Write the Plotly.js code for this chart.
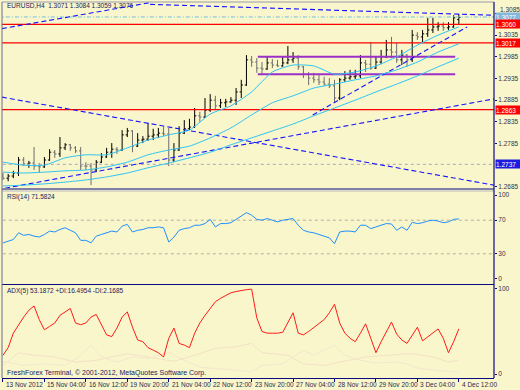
<!DOCTYPE html>
<html><head><meta charset="utf-8">
<script src="https://cdn.plot.ly/plotly-3.0.1.min.js"></script>
<style>html,body{margin:0;padding:0;background:#f9f6cb;}#chart{width:520px;height:390px;}</style>
</head><body><div id="chart"></div>
<script>
// ---- data (bar index 0 = 13 Nov 2012 20:00, H4 bars) ----
const barOpen = [1.2710,1.2705,1.2710,1.2717,1.2747,1.2738,1.2740,1.2733,1.2731,1.2747,
1.2765,1.2761,1.2775,1.2782,1.2775,1.2768,1.2733,1.2733,1.2724,1.2742,
1.2754,1.2765,1.2772,1.2770,1.2805,1.2814,1.2779,1.2793,1.2795,1.2802,
1.2805,1.2809,1.2807,1.2747,1.2770,1.2809,1.2819,1.2823,1.2849,1.2846,
1.2862,1.2885,1.2872,1.2879,1.2881,1.2885,1.2904,1.2920,1.2978,1.2973,
1.2959,1.2957,1.2971,1.2966,1.2964,1.2971,1.2978,1.2982,1.2962,1.2945,
1.2936,1.2932,1.2927,1.2922,1.2918,1.2890,1.2932,1.2936,1.2939,1.2941,
1.2971,1.2968,1.2959,1.2973,1.2985,1.3001,1.2996,1.2978,1.2989,1.2978,
1.3035,1.3031,1.3038,1.3047,1.3054,1.3056,1.3052,1.3054,1.3071];
const barHigh = [1.2717,1.2715,1.2722,1.2754,1.2754,1.2745,1.2777,1.2740,1.2754,1.2772,
1.2770,1.2800,1.2786,1.2784,1.2779,1.2777,1.2742,1.2740,1.2747,1.2763,
1.2775,1.2786,1.2777,1.2816,1.2821,1.2816,1.2809,1.2802,1.2832,1.2819,
1.2821,1.2823,1.2821,1.2786,1.2825,1.2839,1.2842,1.2867,1.2858,1.2890,
1.2899,1.2895,1.2888,1.2888,1.2892,1.2913,1.2932,1.2989,1.2987,1.2982,
1.2973,1.2985,1.2980,1.2978,1.2985,1.3010,1.2996,1.2989,1.2964,1.2950,
1.2948,1.2943,1.2939,1.2936,1.2932,1.2936,1.2952,1.2955,1.2955,1.2989,
1.2978,1.3019,1.2985,1.3001,1.3024,1.3031,1.3017,1.3001,1.2992,1.3047,
1.3042,1.3047,1.3075,1.3075,1.3065,1.3065,1.3065,1.3081,1.3084];
const barLow = [1.2701,1.2698,1.2705,1.2710,1.2733,1.2729,1.2724,1.2719,1.2729,1.2745,
1.2752,1.2754,1.2770,1.2768,1.2763,1.2724,1.2724,1.2689,1.2719,1.2740,
1.2752,1.2752,1.2761,1.2768,1.2800,1.2765,1.2777,1.2786,1.2791,1.2793,
1.2798,1.2802,1.2733,1.2742,1.2768,1.2807,1.2816,1.2821,1.2835,1.2844,
1.2858,1.2862,1.2867,1.2869,1.2879,1.2874,1.2890,1.2918,1.2962,1.2948,
1.2943,1.2955,1.2959,1.2962,1.2962,1.2968,1.2971,1.2955,1.2936,1.2920,
1.2925,1.2920,1.2918,1.2913,1.2879,1.2885,1.2927,1.2932,1.2934,1.2936,
1.2950,1.2955,1.2957,1.2968,1.2982,1.2982,1.2971,1.2966,1.2962,1.2973,
1.3024,1.3017,1.3031,1.3040,1.3045,1.3045,1.3047,1.3052,1.3059];
const barClose = [1.2705,1.2710,1.2717,1.2747,1.2738,1.2740,1.2733,1.2731,1.2747,1.2765,
1.2761,1.2775,1.2782,1.2775,1.2768,1.2733,1.2733,1.2724,1.2742,1.2754,
1.2765,1.2772,1.2770,1.2805,1.2814,1.2779,1.2793,1.2795,1.2802,1.2805,
1.2809,1.2807,1.2747,1.2770,1.2809,1.2819,1.2823,1.2849,1.2846,1.2862,
1.2885,1.2872,1.2879,1.2881,1.2885,1.2904,1.2920,1.2978,1.2973,1.2959,
1.2957,1.2971,1.2966,1.2964,1.2971,1.2978,1.2982,1.2962,1.2945,1.2936,
1.2932,1.2927,1.2922,1.2918,1.2890,1.2932,1.2936,1.2939,1.2941,1.2971,
1.2968,1.2959,1.2973,1.2985,1.3001,1.2996,1.2978,1.2989,1.2978,1.3035,
1.3031,1.3038,1.3047,1.3054,1.3056,1.3052,1.3054,1.3075,1.3076];

// moving averages read every 4 bars
const maBars = [0,4,8,12,16,20,24,28,32,36,40,44,48,52,56,60,64,68,72,76,80,84,88];
const maFast = [1.2742,1.2735,1.2735,1.2752,1.2759,1.2759,1.2775,1.2793,1.2805,1.2816,1.2853,1.2872,1.2904,1.2950,1.2966,1.2964,1.2945,1.2950,1.2964,1.2985,1.3012,1.3035,1.3054];
const maMid  = [1.2719,1.2717,1.2719,1.2722,1.2724,1.2731,1.2742,1.2759,1.2770,1.2779,1.2798,1.2821,1.2851,1.2879,1.2895,1.2913,1.2922,1.2932,1.2941,1.2955,1.2973,1.2996,1.3015];
const maSlow = [1.2687,1.2689,1.2692,1.2696,1.2701,1.2708,1.2717,1.2729,1.2740,1.2752,1.2765,1.2782,1.2798,1.2814,1.2830,1.2849,1.2867,1.2885,1.2904,1.2922,1.2941,1.2962,1.2982];

// drawn objects (bar index, price)
const trendA = {x:[-0.2,28.4], y:[1.3050,1.3110]};
const trendB = {x:[28.4,94.8], y:[1.3106,1.3081]};
const trendC = {x:[-0.2,94.8], y:[1.2892,1.2689]};
const trendD = {x:[0.4,94.8],  y:[1.2682,1.2888]};
const trendE = {x:[59.8,89.6], y:[1.2851,1.3054]};
const purpleLevels = [1.2985,1.2945];
const purpleSpan = [49.2,87.3];
const redLevels = [1.3060,1.3017,1.2863];
const bidLevel = 1.3077;
const dottedLevel = 1.2737;
const markLevels = ['1.3077','1.3060','1.3017','1.2863','1.2737'];
const markColors = ['#86b8dc','#ff0000','#ff0000','#ff0000','#1c1ce0'];
const priceTicks = [1.3085,1.3035,1.2985,1.2935,1.2885,1.2835,1.2785,1.2685];

// RSI(14)
const rsi = [43,45,47,55,52,53,51,50,53,57,56,59,61,58,55,46,46,43,51,53,
55,57,56,63,65,56,58,59,61,61,62,61,44,50,58,60,61,64,64,66,
71,62,66,66,67,71,74,79,76,71,70,72,70,68,70,71,72,64,58,56,
55,53,51,49,42,56,57,57,56,64,64,60,62,64,66,65.5,58,62,58,67.5,
66,67,69,70,69,67,68,71,71.58];
const rsiLevels = [70,30];

// ADX(5)
const adx = [22,31,48,58,67,75,80,64,52,56,60,69,73,77,60,58,60,67,70,57,
46,44,54,67,73,55,40,38,31,28,25,20,42,54,36,34,31,48,60,69,
77,85,89,92,95.5,97,98.5,99.2,99.8,66,50,48,48,48,49,60,72,48,46,50,
55,59,64,72,82,60,48,42,38,48,59,42,25,38,50,61,47,40,36,46,
55,39,44,48,53,42,25,38,53.19];
const plusDiBars = [0,3,6,10,14,18,24,28,33,37,41,45,48,50,55,58,62,65,70,74,79,83,86,88];
const plusDi = [10,25,22,20,14,16,24,20,15,22,30,32,36,25,22,12,10,14,20,22,24,20,14,16.50];
const minusDiBars = [0,4,8,12,15,17,19,22,25,28,32,34,38,42,46,48,50,54,58,60,64,66,69,72,76,78,80,84,88];
const minusDi = [15,10,12,10,22,34,20,14,20,18,26,19,8,6,4,3,10,12,28,22,34,22,16,13,14,12,7,4,2.17];

const tickBars = [0,8,16,24,32,40,48,56,64,72,80,88];
const tickLabels = ['13 Nov 2012','15 Nov 04:00','16 Nov 12:00','19 Nov 20:00','21 Nov 04:00','22 Nov 12:00','23 Nov 20:00','27 Nov 04:00','28 Nov 12:00','29 Nov 20:00','3 Dec 04:00','4 Dec 12:00'];

// ---- build ----
const barIndex = barOpen.map((_, i) => i);
const BG = '#f9f6cb', NAVY = '#0a0a80', TXT = '#2a2a50';
const XR = [-0.19, 94.79];
const traces = [];
const hline = (lvl, color, dash, width, yaxis, x0, x1) => ({type:'scatter', mode:'lines', x:[x0===undefined?XR[0]-1:x0, x1===undefined?XR[1]+1:x1], y:[lvl,lvl], yaxis:yaxis||'y', line:{color:color, width:width||1, dash:dash||'solid'}, hoverinfo:'skip'});

traces.push(hline(bidLevel, '#74bfe2', '4px,2px,1px,2px', 1));
traces.push(hline(dottedLevel, '#a6a6c0', 'dot', 1));
redLevels.forEach(l => traces.push(hline(l, '#ff0000', 'solid', 1.3)));
purpleLevels.forEach(l => traces.push(hline(l, '#9b30c8', 'solid', 2, 'y', purpleSpan[0], purpleSpan[1])));
[trendA,trendB,trendC,trendD,trendE].forEach(t => traces.push({type:'scatter', mode:'lines', x:t.x, y:t.y, line:{color:'#1414ff', width:1.1, dash:'5px,3px'}, hoverinfo:'skip'}));
[maSlow, maMid, maFast].forEach(m => traces.push({type:'scatter', mode:'lines', x:maBars, y:m, line:{color:'#2cc4f4', width:1, shape:'spline', smoothing:0.6}, hoverinfo:'skip'}));
traces.push({type:'ohlc', x:barIndex, open:barOpen, high:barHigh, low:barLow, close:barClose,
  increasing:{line:{color:'#000000', width:1}}, decreasing:{line:{color:'#6e6e6e', width:1}}, tickwidth:0.32, hoverinfo:'skip'});

// RSI panel
rsiLevels.forEach(l => traces.push(hline(l, '#b4aea0', '3px,3px', 1, 'y2')));
traces.push({type:'scatter', mode:'lines', x:barIndex, y:rsi, yaxis:'y2', line:{color:'#1e90ff', width:1}, hoverinfo:'skip'});

// ADX panel
traces.push({type:'scatter', mode:'lines', x:plusDiBars, y:plusDi, yaxis:'y3', line:{color:'#f4e2c6', width:1}, hoverinfo:'skip'});
traces.push({type:'scatter', mode:'lines', x:minusDiBars, y:minusDi, yaxis:'y3', line:{color:'#f5e6cf', width:1}, hoverinfo:'skip'});
traces.push({type:'scatter', mode:'lines', x:barIndex, y:adx, yaxis:'y3', line:{color:'#ff1a1a', width:1}, hoverinfo:'skip'});

const FONT = 'Liberation Sans, Arial, sans-serif';
const annotations = [];
// top price label drawn a little higher, as in the terminal
annotations.push({xref:'paper', x:1, xanchor:'left', xshift:4, yref:'y', y:priceTicks[0], yanchor:'middle', yshift:4, text:priceTicks[0].toFixed(4), showarrow:false, font:{family:FONT, size:6.5, color:'#33334d'}});
markLevels.forEach((t, k) => annotations.push({xref:'paper', x:1, xanchor:'left', xshift:1, yref:'y', y:parseFloat(t), yanchor:'middle', text:t, showarrow:false, bgcolor:markColors[k], borderpad:0, width:24, height:8, align:'left', font:{family:FONT, size:6.5, color:'#ffffff'}}));
tickLabels.forEach((t, k) => annotations.push({xref:'x', x:tickBars[k], xanchor:'left', xshift:1, yref:'paper', y:0, yanchor:'top', yshift:-1, text:t, showarrow:false, font:{family:FONT, size:6.5, color:TXT}}));
const txt = (t, ypx, size) => ({xref:'paper', x:0.006, xanchor:'left', yref:'paper', y:(378-ypx)/376, yanchor:'middle', text:t, showarrow:false, font:{family:FONT, size:size, color:'#20205a'}});
annotations.push(txt('EURUSD,H4  1.3071 1.3084 1.3059 1.3076', 6, 6.5));
annotations.push(txt('RSI(14) 71.5824', 197, 6.5));
annotations.push(txt('ADX(5) 53.1872 +DI:16.4954 -DI:2.1685', 291, 6.5));
annotations.push(txt('FreshForex Terminal, © 2001-2012, MetaQuotes Software Corp.', 373, 7));

const pl = (ypx) => (378 - ypx) / 376;
const shapes = [
  {type:'line', xref:'paper', yref:'paper', x0:0, x1:1, y0:1, y1:1, line:{color:'#9a9ab0', width:1}},
  {type:'line', xref:'paper', yref:'paper', x0:0, x1:1, y0:pl(189), y1:pl(189), line:{color:NAVY, width:1}},
  {type:'line', xref:'paper', yref:'paper', x0:0, x1:1, y0:pl(191), y1:pl(191), line:{color:'#b8b8c0', width:1}},
  {type:'line', xref:'paper', yref:'paper', x0:0, x1:1, y0:pl(284.5), y1:pl(284.5), line:{color:NAVY, width:1.2}},
  {type:'line', xref:'paper', yref:'paper', x0:1, x1:1, y0:0, y1:1, line:{color:NAVY, width:1.2}},
  {type:'line', xref:'paper', yref:'paper', x0:0, x1:0, y0:0, y1:1, line:{color:'#6a6a98', width:1}}
];

const yax = (domain, range, vals, text) => ({domain:domain, range:range, side:'right', showgrid:false, zeroline:false, showline:false, ticks:'outside', ticklen:2, tickcolor:NAVY, tickvals:vals, ticktext:text, tickfont:{family:FONT, size:6.5, color:'#33334d'}, fixedrange:true});

const layout = {
  width:520, height:390, margin:{l:2, r:26, t:2, b:12},
  paper_bgcolor:BG, plot_bgcolor:BG, showlegend:false,
  font:{family:FONT, size:6.5, color:TXT},
  xaxis:{range:XR, anchor:'y3', showgrid:false, zeroline:false, showline:true, linecolor:NAVY, linewidth:1.2, ticks:'outside', ticklen:3, tickcolor:NAVY, tickvals:tickBars, showticklabels:false, rangeslider:{visible:false}, fixedrange:true},
  yaxis: yax([0.5053,1], [1.26824,1.31115], priceTicks, priceTicks.map((v, i) => i === 0 ? '' : v.toFixed(4))),
  yaxis2: yax([0.2527,0.4947], [-4.76,103.6], [0,30,70,100], ['0','30','70','100']),
  yaxis3: yax([0,0.2447], [-4.7,103.5], [0,100], ['0','100']),
  annotations:annotations, shapes:shapes
};
Plotly.newPlot('chart', traces, layout, {displayModeBar:false, staticPlot:true});
</script></body></html>
